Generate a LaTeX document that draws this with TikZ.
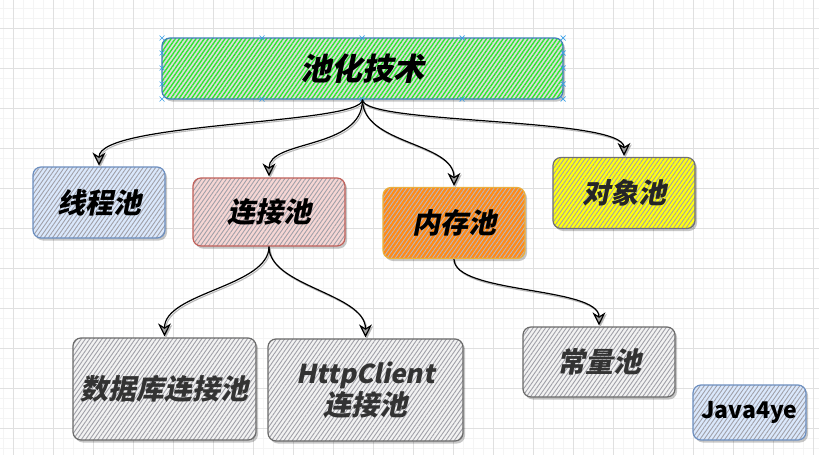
\documentclass[tikz,border=0pt]{standalone}
\usepackage{fontspec}
\usetikzlibrary{arrows.meta,patterns.meta,shadows}
\newfontfamily\cjk{Noto Sans CJK SC}[FakeSlant=0.2]
\newfontfamily\cjkup{Noto Sans CJK SC}
\definecolor{gridminor}{HTML}{F4F4F4}
\definecolor{gridmajor}{HTML}{E0E0E0}
\definecolor{rootline}{HTML}{3C7FB8}
\definecolor{rootfill}{HTML}{DCDCDC}
\definecolor{roothatch}{HTML}{2EE82E}
\definecolor{blueline}{HTML}{6C8EBF}
\definecolor{bluefill}{HTML}{DAE8FC}
\definecolor{redline}{HTML}{C0605A}
\definecolor{redfill}{HTML}{F6D6D4}
\definecolor{orangeline}{HTML}{E8B040}
\definecolor{orangefill}{HTML}{FF8A18}
\definecolor{orangehatch}{HTML}{B8B8C0}
\definecolor{yellowline}{HTML}{707070}
\definecolor{yellowfill}{HTML}{FFFF10}
\definecolor{grayline}{HTML}{6A6A6A}
\definecolor{grayfill}{HTML}{F2F2F2}
\definecolor{hatchgray}{HTML}{A0A0A8}
\definecolor{handle}{HTML}{3AA0E8}
\begin{document}
\begin{tikzpicture}[x=1pt,y=-1pt,
  base/.style={draw, rounded corners=8pt, line width=1.2pt, inner sep=0pt, align=center,
    drop shadow={shadow xshift=2pt,shadow yshift=-2.5pt,opacity=0.22,fill=black},
    font=\cjk\bfseries\fontsize{28}{32}\selectfont},
  hatch/.style n args={3}{preaction={fill=#1},
    pattern={Lines[angle=55,distance=3.4pt,line width=#3]}, pattern color=#2},
  rootbox/.style={base, draw=rootline, hatch={rootfill}{roothatch}{1.4pt},
    font=\cjk\bfseries\fontsize{31}{35}\selectfont},
  bluebox/.style={base, draw=blueline, hatch={bluefill}{hatchgray}{0.9pt}},
  redbox/.style={base, draw=redline, hatch={redfill}{hatchgray}{0.9pt}},
  orangebox/.style={base, draw=orangeline, hatch={orangefill}{orangehatch}{0.9pt}},
  yellowbox/.style={base, draw=yellowline, hatch={yellowfill}{hatchgray}{0.9pt}, text=black!85},
  graybox/.style={base, draw=grayline, hatch={grayfill}{hatchgray}{0.9pt}, text=black!80},
  arr/.style={line width=1.2pt, shorten >=1pt,
    -{Stealth[length=13pt,width=13pt,inset=4pt,open,fill=gray!75]},
    preaction={draw=gray!55, line width=1.1pt, transform canvas={xshift=1.3pt,yshift=-1.6pt}}},
  minorgrid/.style={draw=gridminor, line width=0.6pt},
  majorgrid/.style={draw=gridmajor, line width=0.8pt},
  handlemark/.style={draw=handle, line width=0.7pt}
]
\useasboundingbox (0,0) rectangle (819,455);
\fill[white] (0,0) rectangle (819,455);
% grid
\foreach \x in {3,13,...,819} \draw[minorgrid] (\x,0) -- (\x,455);
\foreach \y in {8,18,...,455} \draw[minorgrid] (0,\y) -- (819,\y);
\foreach \x in {13,53,...,819} \draw[majorgrid] (\x,0) -- (\x,455);
\foreach \y in {28,68,...,455} \draw[majorgrid] (0,\y) -- (819,\y);

% nodes
\node[rootbox, minimum width=401pt, minimum height=61pt] (root) at (362.5,68.5) {池化技术};
\node[bluebox, minimum width=132pt, minimum height=71pt] (xc) at (99,202.5) {线程池};
\node[redbox, minimum width=152pt, minimum height=68pt] (lj) at (269,212) {连接池};
\node[orangebox, minimum width=142pt, minimum height=71pt] (nc) at (454,223) {内存池};
\node[yellowbox, minimum width=142pt, minimum height=71pt] (dx) at (624,193) {对象池};
\node[graybox, minimum width=183pt, minimum height=102pt] (sj) at (164.5,389) {数据库连接池};
\node[graybox, minimum width=195pt, minimum height=102pt] (hc) at (365.5,390) {{\fontsize{26}{30}\selectfont HttpClient}\\连接池};
\node[graybox, minimum width=152pt, minimum height=70pt] (cl) at (599,362) {常量池};
\node[bluebox, minimum width=113pt, minimum height=55pt, text=black, font=\cjkup\bfseries\fontsize{23}{26}\selectfont] (jv) at (749.5,412.5) {Java4ye};

% selection handles on root
\foreach \x in {162,262,362,462,563}
  \foreach \y in {38,99}
    \draw[handlemark] (\x-2.5,\y-2.5) -- (\x+2.5,\y+2.5) (\x-2.5,\y+2.5) -- (\x+2.5,\y-2.5);
\foreach \x in {162,563}
  \foreach \y in {53,68,84}
    \draw[handlemark] (\x-2.5,\y-2.5) -- (\x+2.5,\y+2.5) (\x-2.5,\y+2.5) -- (\x+2.5,\y-2.5);

% connectors
\draw[arr] (root.south) .. controls +(0,25) and +(0,-45) .. (xc.north);
\draw[arr] (root.south) .. controls +(0,50) and +(0,-38) .. (lj.north);
\draw[arr] (root.south) .. controls +(0,45) and +(0,-45) .. (nc.north);
\draw[arr] (root.south) .. controls +(0,25) and +(0,-40) .. (dx.north);
\draw[arr] (lj.south) .. controls +(0,40) and +(0,-45) .. (sj.north);
\draw[arr] (lj.south) .. controls +(0,40) and +(0,-45) .. (hc.north);
\draw[arr] (nc.south) .. controls +(0,35) and +(0,-40) .. (cl.north);
\end{tikzpicture}
\end{document}
